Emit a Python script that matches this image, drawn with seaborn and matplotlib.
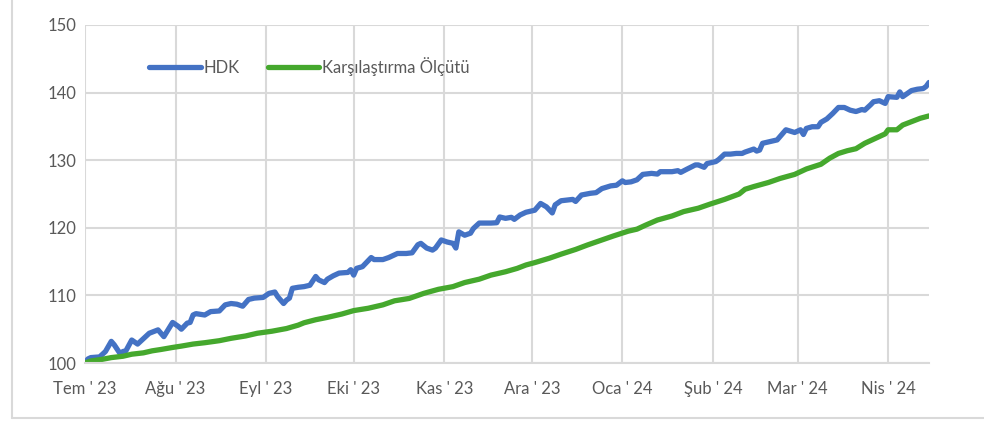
import pandas as pd
import matplotlib.pyplot as plt
import matplotlib.dates as mdates
from matplotlib.lines import Line2D
import seaborn as sns

# HDK fon getirisi (endeks, 100 = başlangıç)
hdk_dates = [
    "2023-07-01", "2023-07-02", "2023-07-03", "2023-07-06", "2023-07-08", "2023-07-10",
    "2023-07-11", "2023-07-13", "2023-07-14", "2023-07-15", "2023-07-17", "2023-07-19",
    "2023-07-21", "2023-07-23", "2023-07-26", "2023-07-28", "2023-07-31", "2023-08-02",
    "2023-08-03", "2023-08-05", "2023-08-06", "2023-08-07", "2023-08-08", "2023-08-11",
    "2023-08-13", "2023-08-16", "2023-08-18", "2023-08-20", "2023-08-22", "2023-08-24",
    "2023-08-26", "2023-08-28", "2023-08-31", "2023-09-02", "2023-09-04", "2023-09-05",
    "2023-09-07", "2023-09-08", "2023-09-09", "2023-09-10", "2023-09-12", "2023-09-14",
    "2023-09-16", "2023-09-18", "2023-09-19", "2023-09-21", "2023-09-22", "2023-09-24",
    "2023-09-26", "2023-09-29", "2023-09-30", "2023-10-01", "2023-10-02", "2023-10-04",
    "2023-10-07", "2023-10-08", "2023-10-11", "2023-10-13", "2023-10-16", "2023-10-19",
    "2023-10-21", "2023-10-23", "2023-10-24", "2023-10-26", "2023-10-28", "2023-10-29",
    "2023-10-31", "2023-11-02", "2023-11-04", "2023-11-05", "2023-11-06", "2023-11-08",
    "2023-11-10", "2023-11-11", "2023-11-13", "2023-11-17", "2023-11-19", "2023-11-20",
    "2023-11-22", "2023-11-24", "2023-11-25", "2023-11-27", "2023-11-29", "2023-12-02",
    "2023-12-04", "2023-12-06", "2023-12-08", "2023-12-09", "2023-12-11", "2023-12-13",
    "2023-12-15", "2023-12-16", "2023-12-18", "2023-12-21", "2023-12-23", "2023-12-25",
    "2023-12-28", "2023-12-30", "2024-01-01", "2024-01-02", "2024-01-04", "2024-01-06",
    "2024-01-08", "2024-01-11", "2024-01-13", "2024-01-14", "2024-01-18", "2024-01-20",
    "2024-01-21", "2024-01-23", "2024-01-26", "2024-01-27", "2024-01-29", "2024-01-30",
    "2024-02-02", "2024-02-03", "2024-02-05", "2024-02-07", "2024-02-09", "2024-02-11",
    "2024-02-12", "2024-02-15", "2024-02-16", "2024-02-17", "2024-02-18", "2024-02-20",
    "2024-02-23", "2024-02-24", "2024-02-26", "2024-02-29", "2024-03-02", "2024-03-03",
    "2024-03-04", "2024-03-06", "2024-03-08", "2024-03-09", "2024-03-11", "2024-03-13",
    "2024-03-15", "2024-03-17", "2024-03-19", "2024-03-21", "2024-03-23", "2024-03-24",
    "2024-03-26", "2024-03-27", "2024-03-29", "2024-03-31", "2024-04-01", "2024-04-04",
    "2024-04-05", "2024-04-06", "2024-04-08", "2024-04-09", "2024-04-11", "2024-04-13",
    "2024-04-14", "2024-04-15",
]
hdk_values = [
    100.0, 100.6, 100.8, 100.9, 101.7, 103.2,
    102.7, 101.4, 101.7, 101.8, 103.4, 102.8,
    103.6, 104.4, 104.9, 103.9, 106.0, 105.4,
    105.0, 105.9, 106.0, 107.1, 107.3, 107.1,
    107.6, 107.7, 108.6, 108.8, 108.7, 108.4,
    109.4, 109.6, 109.7, 110.3, 110.5, 109.8,
    108.8, 109.3, 109.6, 111.05, 111.2, 111.3,
    111.5, 112.8, 112.3, 111.9, 112.4, 112.9,
    113.3, 113.4, 113.8, 113.0, 114.0, 114.25,
    115.6, 115.3, 115.3, 115.6, 116.2, 116.2,
    116.3, 117.5, 117.7, 117.0, 116.7, 117.0,
    118.2, 117.9, 117.7, 117.0, 119.4, 118.9,
    119.2, 119.9, 120.7, 120.7, 120.75, 121.6,
    121.4, 121.55, 121.25, 121.9, 122.3, 122.6,
    123.6, 123.1, 122.2, 123.4, 124.0, 124.1,
    124.2, 123.9, 124.85, 125.1, 125.2, 125.8,
    126.2, 126.3, 126.95, 126.7, 126.8, 127.1,
    127.9, 128.05, 127.95, 128.3, 128.3, 128.45,
    128.2, 128.65, 129.3, 129.3, 128.95, 129.5,
    129.8, 130.1, 130.9, 130.9, 131.0, 131.0,
    131.2, 131.65, 131.35, 131.5, 132.5, 132.7,
    133.0, 133.5, 134.5, 134.1, 134.5, 133.8,
    134.7, 134.95, 134.95, 135.6, 136.1, 136.9,
    137.8, 137.8, 137.4, 137.2, 137.5, 137.4,
    138.2, 138.65, 138.8, 138.4, 139.4, 139.3,
    140.1, 139.4, 140.0, 140.3, 140.5, 140.6,
    140.9, 141.5,
]

# Karşılaştırma ölçütü
bench_dates = [
    "2023-07-01", "2023-07-03", "2023-07-07", "2023-07-10", "2023-07-14", "2023-07-17",
    "2023-07-21", "2023-07-24", "2023-07-27", "2023-07-31", "2023-08-03", "2023-08-07",
    "2023-08-11", "2023-08-16", "2023-08-20", "2023-08-25", "2023-08-29", "2023-09-03",
    "2023-09-08", "2023-09-12", "2023-09-14", "2023-09-18", "2023-09-22", "2023-09-27",
    "2023-10-01", "2023-10-06", "2023-10-11", "2023-10-15", "2023-10-20", "2023-10-23",
    "2023-10-25", "2023-10-30", "2023-11-04", "2023-11-08", "2023-11-13", "2023-11-17",
    "2023-11-22", "2023-11-26", "2023-11-29", "2023-12-02", "2023-12-07", "2023-12-11",
    "2023-12-16", "2023-12-20", "2023-12-25", "2023-12-29", "2024-01-03", "2024-01-06",
    "2024-01-09", "2024-01-13", "2024-01-18", "2024-01-22", "2024-01-27", "2024-01-31",
    "2024-02-05", "2024-02-10", "2024-02-12", "2024-02-15", "2024-02-20", "2024-02-24",
    "2024-02-29", "2024-03-04", "2024-03-09", "2024-03-12", "2024-03-15", "2024-03-18",
    "2024-03-21", "2024-03-24", "2024-03-29", "2024-03-31", "2024-04-01", "2024-04-04",
    "2024-04-06", "2024-04-09", "2024-04-12", "2024-04-15",
]
bench_values = [
    100.0, 100.3, 100.55, 100.8, 101.0, 101.3,
    101.5, 101.8, 102.0, 102.3, 102.5, 102.8,
    103.0, 103.3, 103.65, 104.0, 104.4, 104.7,
    105.1, 105.6, 105.95, 106.4, 106.75, 107.25,
    107.75, 108.1, 108.6, 109.2, 109.55, 110.0,
    110.3, 110.9, 111.3, 111.9, 112.4, 113.0,
    113.5, 114.0, 114.5, 114.85, 115.5, 116.1,
    116.8, 117.45, 118.2, 118.8, 119.5, 119.8,
    120.4, 121.15, 121.75, 122.4, 122.9, 123.5,
    124.2, 125.0, 125.7, 126.1, 126.7, 127.3,
    127.9, 128.7, 129.4, 130.3, 131.0, 131.4,
    131.7, 132.5, 133.5, 133.9, 134.5, 134.5,
    135.2, 135.7, 136.2, 136.55,
]

series_names = ["HDK", "Karşılaştırma Ölçütü"]
month_starts = ["2023-07-01", "2023-08-01", "2023-09-01", "2023-10-01", "2023-11-01",
                "2023-12-01", "2024-01-01", "2024-02-01", "2024-03-01", "2024-04-01"]
month_labels = ["Tem ' 23", "Ağu ' 23", "Eyl ' 23", "Eki ' 23", "Kas ' 23",
                "Ara ' 23", "Oca ' 24", "Şub ' 24", "Mar ' 24", "Nis ' 24"]
y_ticks = [100, 110, 120, 130, 140, 150]

df = pd.concat([
    pd.DataFrame({"Tarih": pd.to_datetime(hdk_dates), "Değer": hdk_values, "Seri": series_names[0]}),
    pd.DataFrame({"Tarih": pd.to_datetime(bench_dates), "Değer": bench_values, "Seri": series_names[1]}),
])

sns.set_theme(style="white")
plt.rcParams['font.family'] = ['Lato', 'DejaVu Sans']

grid_col = "#D9D9D9"
text_col = "#595959"
palette = {"HDK": "#4472C4", "Karşılaştırma Ölçütü": "#45A82D"}

fig = plt.figure(figsize=(9.84, 4.23), dpi=100)
ax = fig.add_axes([85 / 984, 60 / 423, 844 / 984, 338 / 423])

sns.lineplot(data=df, x="Tarih", y="Değer", hue="Seri", palette=palette,
             linewidth=3.8, ax=ax, legend=False, sort=False)

ax.set_ylim(100, 150)
ax.set_yticks(y_ticks)
ax.set_xlim(pd.Timestamp("2023-07-01"), pd.Timestamp("2024-04-15"))
ax.set_xticks(pd.to_datetime(month_starts))
ax.set_xticklabels(month_labels)

ax.grid(True, color=grid_col, linewidth=1.5)
ax.set_axisbelow(True)
for side in ["top", "right", "left"]:
    ax.spines[side].set_visible(False)
ax.spines["bottom"].set_color(grid_col)
ax.spines["bottom"].set_linewidth(1.5)
ax.tick_params(axis="x", length=5, width=1.5, color=grid_col, pad=8,
               labelsize=12, labelcolor=text_col)
ax.tick_params(axis="y", length=0, pad=6, labelsize=12, labelcolor=text_col)
ax.set_xlabel("")
ax.set_ylabel("")

handles = [Line2D([0], [0], color=palette[n], linewidth=3.8) for n in series_names]
ax.legend(handles, series_names, loc="upper left", bbox_to_anchor=(0.058, 0.95),
          ncol=2, frameon=False, fontsize=12, handlelength=3.1, handletextpad=0.15,
          columnspacing=1.7, labelcolor=text_col)

# dış çerçeve
fig.add_artist(Line2D([12 / 984, 12 / 984], [5 / 423, 1.0], color=grid_col, linewidth=1.5))
fig.add_artist(Line2D([12 / 984, 1.0], [5 / 423, 5 / 423], color=grid_col, linewidth=1.5))

fig.savefig("out.png", dpi=100)
